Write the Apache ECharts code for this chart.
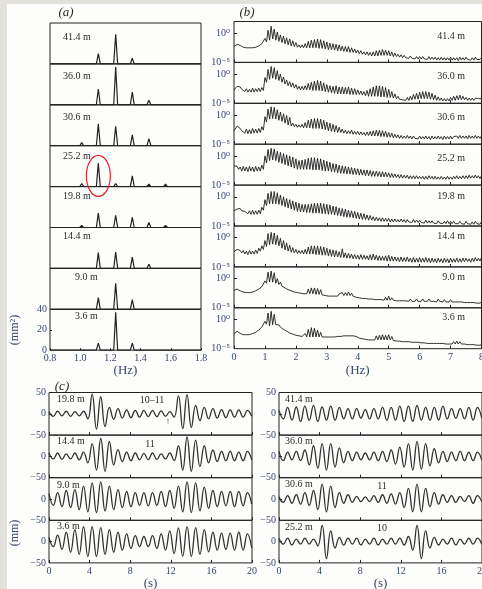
<!DOCTYPE html>
<html>
<head>
<meta charset="utf-8">
<script src="https://cdn.jsdelivr.net/npm/echarts@6/dist/echarts.min.js"></script>
<style>
  html, body { margin: 0; padding: 0; background: #e3e1dc; }
  #paper { position: absolute; left: 7px; top: 4px; width: 475px; height: 585px; background: #fdfdfb; }
  #chart { position: absolute; left: 0; top: 0; width: 482px; height: 589px; }
</style>
</head>
<body>
<div id="paper"></div>
<div id="chart"></div>
<script>
// gauge depths, top row first
const depths = ['41.4 m', '36.0 m', '30.6 m', '25.2 m', '19.8 m', '14.4 m', '9.0 m', '3.6 m'];

// (a) linear spectra: peak frequencies (Hz) and peak heights (mm^2) per depth
const aFreq = [1.01, 1.12, 1.235, 1.345, 1.455, 1.565, 1.68];
const aPeak414 = [0, 10, 29, 5.5, 0, 1, 0];
const aPeak360 = [1, 15.5, 37, 12.5, 4.5, 1, 0];
const aPeak306 = [3, 21.5, 19, 10.5, 7, 1.5, 0];
const aPeak252 = [3, 23, 3, 10.5, 2.5, 2.5, 1];
const aPeak198 = [2, 14, 12, 10, 5, 2, 1];
const aPeak144 = [0, 15.5, 16, 11, 4, 1, 0];
const aPeak90  = [0, 11.5, 25.5, 9.5, 1, 0, 0];
const aPeak36  = [0, 7, 37, 7, 0, 0, 0];
const aHalfWidth = 0.013;

// (b) log spectra, log10 values every 0.1 Hz from 0 to 8 Hz: comb tops (Hi) and troughs between (Lo)
const bStep = 0.1;
const b414Hi = [-2.3,-1.9,-2.1,-2.4,-2.5,-2.5,-2.5,-2.4,-2.2,-1.8, -0.9,0.5,1.2,0.7,0.2,-0.3,-0.5,-0.8,-1.0,-1.3, -1.6,-2.0,-2.0,-1.8,-1.4,-1.2,-1.1,-1.0,-1.1,-1.3, -1.5,-1.7,-1.8,-1.9,-2.0,-2.2,-2.3,-2.3,-2.5,-2.7, -2.9,-3.0,-3.2,-3.2,-3.3,-3.2,-3.0,-2.9,-2.8,-2.9, -3.0,-3.2,-3.4,-3.6,-3.7,-3.8,-3.9,-3.9,-4.0,-4.0, -4.0,-4.0,-4.1,-4.0,-4.1,-4.1,-4.2,-4.1,-4.2,-4.2, -4.1,-4.2,-4.2,-4.1,-4.2,-4.1,-4.2,-4.2,-4.1,-4.2, -4.2];
const b414Lo = [-2.5,-2.2,-2.4,-2.6,-2.7,-2.7,-2.6,-2.5,-2.4,-2.1, -1.5,-1.2,-1.0,-1.2,-1.4,-1.6,-1.8,-2.0,-2.2,-2.3, -2.4,-2.5,-2.5,-2.5,-2.5,-2.5,-2.5,-2.6,-2.6,-2.7, -2.8,-2.8,-2.9,-3.0,-3.0,-3.1,-3.2,-3.3,-3.3,-3.4, -3.5,-3.6,-3.7,-3.8,-3.9,-3.9,-3.9,-3.8,-3.8,-3.8, -3.9,-4.0,-4.0,-4.1,-4.2,-4.2,-4.3,-4.3,-4.4,-4.4, -4.4,-4.4,-4.5,-4.5,-4.5,-4.6,-4.6,-4.6,-4.6,-4.6, -4.6,-4.6,-4.7,-4.6,-4.6,-4.5,-4.6,-4.6,-4.5,-4.5, -4.5];
const b360Hi = [-2.7,-2.1,-2.2,-2.5,-2.5,-2.6,-2.4,-2.5,-2.4,-2.3, -0.6,0.8,1.3,1.1,0.6,0.0,-0.5,-1.0,-1.3,-1.5, -1.8,-2.1,-2.1,-2.0,-1.6,-1.4,-1.2,-1.1,-1.2,-1.5, -1.8,-2.0,-2.1,-2.0,-2.2,-2.2,-2.3,-2.2,-2.4,-2.5, -2.7,-2.9,-3.0,-2.8,-2.5,-2.2,-2.0,-2.0,-2.1,-2.3, -2.6,-3.0,-3.4,-3.8,-4.0,-4.1,-4.0,-3.8,-3.5,-3.3, -3.1,-3.0,-3.0,-3.1,-3.3,-3.6,-3.9,-4.1,-4.2,-4.2, -4.0,-3.8,-3.7,-3.6,-3.8,-4.0,-4.1,-4.1,-4.1,-4.2, -4.2];
const b360Lo = [-3.0,-2.4,-2.6,-3.0,-3.1,-3.1,-3.1,-3.0,-3.0,-2.8, -1.4,-0.9,-0.7,-0.9,-1.1,-1.4,-1.7,-2.0,-2.2,-2.4, -2.6,-2.7,-2.7,-2.7,-2.7,-2.8,-2.8,-2.8,-2.9,-3.0, -3.1,-3.2,-3.3,-3.4,-3.4,-3.4,-3.4,-3.5,-3.5,-3.5, -3.5,-3.6,-3.7,-3.8,-3.8,-3.8,-3.8,-3.9,-3.9,-4.0, -4.0,-4.1,-4.2,-4.3,-4.4,-4.5,-4.5,-4.4,-4.3,-4.3, -4.2,-4.2,-4.2,-4.3,-4.4,-4.5,-4.5,-4.6,-4.6,-4.6, -4.5,-4.5,-4.4,-4.4,-4.4,-4.5,-4.5,-4.5,-4.4,-4.5, -4.5];
const b306Hi = [-2.7,-1.9,-2.3,-2.5,-2.4,-2.5,-2.3,-2.4,-2.3,-2.0, -0.3,1.0,1.4,1.3,0.9,0.5,0.2,-0.1,-0.4,-1.4, -1.6,-1.7,-1.6,-1.3,-0.9,-0.7,-0.6,-0.6,-0.7,-0.9, -1.2,-1.4,-1.6,-1.8,-2.1,-2.4,-2.6,-2.7,-2.6,-2.8, -2.8,-2.9,-3.0,-2.9,-2.8,-2.7,-2.6,-2.6,-2.7,-2.8, -3.0,-3.1,-3.3,-3.4,-3.5,-3.6,-3.5,-3.6,-3.6,-3.7, -3.6,-3.7,-3.6,-3.7,-3.6,-3.7,-3.6,-3.7,-3.6,-3.7, -3.6,-3.7,-3.6,-3.5,-3.6,-3.6,-3.5,-3.6,-3.5,-3.6, -3.6];
const b306Lo = [-3.0,-2.2,-2.7,-3.1,-3.2,-3.2,-3.1,-3.1,-3.0,-2.6, -1.2,-0.7,-0.6,-0.7,-0.9,-1.1,-1.4,-1.7,-1.9,-2.0, -2.1,-2.1,-2.2,-2.2,-2.2,-2.3,-2.3,-2.3,-2.4,-2.5, -2.7,-2.8,-2.9,-3.0,-3.0,-3.1,-3.2,-3.2,-3.3,-3.3, -3.4,-3.4,-3.5,-3.5,-3.6,-3.6,-3.6,-3.7,-3.7,-3.8, -3.8,-3.9,-3.9,-4.0,-4.0,-4.0,-4.0,-4.1,-4.0,-4.1, -4.1,-4.1,-4.1,-4.2,-4.1,-4.1,-4.1,-4.2,-4.1,-4.1, -4.1,-4.0,-4.0,-4.0,-4.0,-4.1,-4.0,-4.0,-4.0,-4.0, -4.0];
const b252Hi = [-1.7,-1.8,-1.9,-1.8,-1.9,-1.8,-1.9,-1.8,-1.9,-1.6, 0.0,1.1,1.3,1.2,0.8,0.6,0.4,0.2,0.0,-0.2, -0.5,-0.8,-0.7,-0.6,-0.4,-0.3,-0.3,-0.4,-0.5,-0.7, -0.9,-1.1,-1.3,-1.4,-1.6,-1.7,-1.8,-1.9,-2.0,-2.1, -2.2,-2.3,-2.4,-2.4,-2.5,-2.6,-2.6,-2.7,-2.7,-2.8, -2.9,-3.0,-3.1,-3.2,-3.2,-3.3,-3.3,-3.4,-3.4,-3.4, -3.5,-3.5,-3.5,-3.4,-3.5,-3.5,-3.6,-3.5,-3.6,-3.5, -3.6,-3.5,-3.4,-3.5,-3.4,-3.4,-3.3,-3.4,-3.3,-3.4, -3.4];
const b252Lo = [-2.0,-2.3,-2.6,-2.6,-2.7,-2.6,-2.7,-2.6,-2.6,-2.3, -1.2,-0.8,-0.7,-0.8,-1.1,-1.3,-1.5,-1.7,-1.9,-2.1, -2.3,-2.3,-2.3,-2.3,-2.3,-2.4,-2.4,-2.4,-2.5,-2.6, -2.6,-2.7,-2.8,-2.9,-3.0,-3.0,-3.1,-3.1,-3.2,-3.2, -3.3,-3.3,-3.4,-3.4,-3.5,-3.5,-3.5,-3.6,-3.6,-3.6, -3.7,-3.7,-3.7,-3.8,-3.8,-3.8,-3.9,-3.9,-3.9,-3.9, -3.9,-4.0,-4.0,-3.9,-4.0,-4.0,-4.0,-4.0,-4.0,-4.0, -4.0,-3.9,-3.9,-3.9,-3.9,-3.9,-3.8,-3.8,-3.8,-3.9, -3.8];
const b198Hi = [-2.4,-2.1,-2.0,-2.2,-2.3,-2.4,-2.3,-2.4,-2.3,-1.8, -0.5,0.6,0.9,0.9,0.7,0.3,0.0,-0.3,-0.5,-0.7, -0.9,-1.1,-1.3,-1.3,-1.3,-1.2,-1.1,-1.1,-1.1,-1.2, -1.3,-1.4,-1.6,-1.7,-1.9,-2.0,-2.1,-2.3,-2.4,-2.5, -2.7,-2.8,-2.9,-3.1,-3.2,-3.4,-3.5,-3.6,-3.6,-3.7, -3.7,-3.8,-3.8,-3.9,-3.8,-3.9,-3.9,-4.0,-3.9,-4.0, -4.0,-4.1,-4.0,-4.1,-4.1,-4.2,-4.1,-4.2,-4.2,-4.1, -4.2,-4.2,-4.3,-4.2,-4.3,-4.2,-4.3,-4.3,-4.2,-4.3, -4.3];
const b198Lo = [-2.7,-2.4,-2.4,-2.5,-2.9,-3.0,-3.0,-3.0,-2.9,-2.3, -1.5,-1.2,-1.2,-1.2,-1.3,-1.5,-1.7,-1.9,-2.1,-2.3, -2.5,-2.6,-2.6,-2.7,-2.7,-2.8,-2.8,-2.8,-2.9,-2.9, -3.0,-3.0,-3.1,-3.2,-3.3,-3.4,-3.5,-3.5,-3.6,-3.7, -3.8,-3.9,-3.9,-4.0,-4.0,-4.1,-4.1,-4.2,-4.2,-4.2, -4.3,-4.3,-4.3,-4.3,-4.3,-4.4,-4.3,-4.4,-4.4,-4.4, -4.4,-4.5,-4.5,-4.5,-4.5,-4.6,-4.5,-4.6,-4.6,-4.6, -4.6,-4.6,-4.6,-4.6,-4.7,-4.6,-4.7,-4.7,-4.6,-4.7, -4.6];
const b144Hi = [-2.4,-2.0,-2.2,-2.2,-2.3,-2.2,-2.3,-2.1,-1.8,-1.4, -0.5,0.7,0.9,0.8,0.4,-0.1,-0.5,-0.9,-1.3,-1.7, -2.0,-2.2,-2.2,-2.0,-1.6,-1.4,-1.4,-1.4,-1.5,-1.6, -1.8,-2.0,-2.1,-2.2,-2.4,-1.9,-2.6,-2.7,-2.8,-2.9, -3.0,-2.9,-3.0,-3.1,-2.9,-2.8,-3.0,-3.1,-3.2,-3.1, -3.0,-3.2,-3.3,-3.4,-3.3,-3.4,-3.3,-3.5,-3.4,-3.5, -3.4,-3.5,-3.4,-3.5,-3.5,-3.6,-3.5,-3.6,-3.5,-3.6, -3.5,-3.6,-3.5,-3.6,-3.5,-3.5,-3.6,-3.5,-3.4,-3.5, -3.4];
const b144Lo = [-2.6,-2.3,-2.6,-2.8,-2.9,-2.8,-2.8,-2.7,-2.3,-2.0, -1.5,-1.2,-1.1,-1.2,-1.4,-1.8,-2.1,-2.3,-2.5,-2.6, -2.7,-2.7,-2.8,-2.8,-2.8,-2.8,-2.9,-2.9,-3.0,-3.0, -3.1,-3.2,-3.3,-3.3,-3.4,-3.4,-3.5,-3.5,-3.6,-3.6, -3.7,-3.7,-3.7,-3.8,-3.8,-3.8,-3.9,-3.9,-3.9,-4.0, -4.0,-4.0,-4.0,-4.1,-4.1,-4.1,-4.1,-4.2,-4.2,-4.2, -4.2,-4.2,-4.2,-4.3,-4.2,-4.3,-4.2,-4.3,-4.2,-4.3, -4.2,-4.2,-4.2,-4.2,-4.1,-4.1,-4.2,-4.1,-4.0,-4.0, -4.0];
const b90Hi = [-2.0,-1.8,-2.1,-2.3,-2.4,-2.4,-2.3,-2.1,-1.8,-1.4, -0.4,1.1,1.3,1.0,0.0,-0.6,-1.2,-1.7,-2.0,-2.2, -2.3,-2.4,-2.4,-2.3,-1.8,-1.6,-1.6,-1.7,-1.9,-2.5, -2.7,-2.8,-2.8,-2.7,-2.6,-2.4,-2.4,-2.3,-2.5,-2.9, -3.1,-3.2,-3.2,-3.3,-3.3,-3.3,-3.4,-3.4,-3.3,-3.2, -3.0,-3.3,-3.5,-3.5,-3.6,-3.5,-3.6,-3.5,-3.6,-3.5, -3.6,-3.5,-3.6,-3.5,-3.6,-3.6,-3.5,-3.6,-3.6,-3.7, -3.6,-3.7,-3.7,-3.8,-3.8,-3.8,-3.9,-3.9,-3.9,-4.0, -4.0];
const b90Lo = [-2.2,-2.0,-2.3,-2.4,-2.5,-2.5,-2.4,-2.2,-1.9,-1.6, -0.8,-0.6,-0.6,-0.8,-1.0,-1.3,-1.6,-1.9,-2.1,-2.3, -2.4,-2.5,-2.6,-2.6,-2.6,-2.6,-2.7,-2.7,-2.8,-2.9, -3.0,-3.0,-3.0,-3.0,-2.9,-2.9,-2.9,-2.9,-3.0,-3.2, -3.3,-3.4,-3.4,-3.5,-3.5,-3.6,-3.6,-3.6,-3.7,-3.7, -3.7,-3.7,-3.8,-3.8,-3.8,-3.8,-3.9,-3.9,-3.9,-3.9, -3.9,-3.9,-3.9,-3.9,-3.9,-4.0,-3.9,-4.0,-4.0,-4.0, -4.0,-4.0,-4.0,-4.0,-4.1,-4.1,-4.1,-4.1,-4.2,-4.2, -4.2];
const b36Hi = [-2.5,-2.0,-2.4,-2.6,-2.6,-2.6,-2.4,-2.2,-1.8,-1.3, -0.3,1.1,1.4,0.9,-0.6,-1.3,-1.7,-2.0,-2.3,-2.5, -2.7,-2.8,-2.9,-2.4,-1.7,-1.4,-1.5,-1.8,-2.2,-2.8, -2.8,-2.8,-2.8,-2.7,-2.7,-2.6,-2.6,-2.6,-2.6,-2.7, -3.0,-3.1,-3.2,-3.3,-3.3,-3.2,-2.8,-2.7,-2.6,-2.7, -2.6,-2.9,-3.4,-3.5,-3.6,-3.6,-3.7,-3.7,-3.7,-3.8, -3.8,-3.9,-3.9,-3.9,-4.0,-4.0,-4.0,-3.9,-4.0,-4.0, -3.9,-3.8,-3.7,-3.8,-4.0,-4.1,-4.1,-4.2,-4.2,-4.3, -4.3];
const b36Lo = [-2.7,-2.2,-2.5,-2.7,-2.7,-2.7,-2.5,-2.3,-1.9,-1.4, -0.8,-1.1,-0.9,-0.9,-0.9,-1.4,-1.8,-2.1,-2.4,-2.6, -2.8,-2.9,-3.0,-3.0,-3.0,-3.0,-3.0,-3.0,-3.0,-3.0, -3.0,-3.0,-3.0,-2.9,-2.9,-2.8,-2.8,-2.8,-2.8,-2.9, -3.2,-3.3,-3.4,-3.5,-3.5,-3.5,-3.5,-3.5,-3.5,-3.5, -3.5,-3.6,-3.7,-3.7,-3.8,-3.8,-3.8,-3.9,-3.9,-3.9, -4.0,-4.0,-4.1,-4.1,-4.1,-4.1,-4.1,-4.1,-4.2,-4.2, -4.2,-4.2,-4.2,-4.2,-4.2,-4.3,-4.3,-4.3,-4.4,-4.4, -4.5];

// (c) wave records (mm): successive crest/trough values, one every cDt seconds
const cDt = 0.425;
const c198 = [5,-6,6,-5,6,-6,5,-5, 6,-12,46,-36,40,-30,15,-13, 12,-10,9,-9,8,-8,8,-7, 8,-7,7,-6,5,-8,42,-35, 45,-32,20,-16,15,-12,12,-10, 10,-9,9,-8,9,-8,8,-6];
const c144 = [8,-6,8,-7,6,-6,8,-8, 10,-15,30,-32,42,-35,35,-20, 16,-12,10,-10,8,-8,7,-8, 8,-7,6,-6,8,-10,25,-32, 46,-35,38,-24,25,-15,15,-12, 12,-10,12,-10,10,-10,12,-8];
const c90  = [12,-15,15,-18,20,-20,22,-25, 30,-30,38,-32,40,-28,30,-25, 22,-20,18,-18,15,-15,15,-16, 15,-15,18,-18,20,-22,30,-30, 40,-32,38,-28,28,-22,20,-18, 18,-16,18,-18,18,-16,15,-12];
const c36  = [10,-12,15,-18,22,-25,28,-30, 35,-35,35,-35,33,-30,28,-25, 22,-20,18,-16,14,-12,12,-12, 14,-16,18,-20,25,-28,32,-34, 35,-35,33,-30,28,-24,22,-20, 20,-18,20,-20,22,-20,18,-15];
const c414 = [8,-12,15,-15,16,-18,18,-15, 20,-18,16,-15,18,-15,15,-12, 12,-12,12,-10,10,-12,12,-12, 15,-15,15,-15,18,-18,18,-18, 20,-15,15,-15,15,-15,18,-12, 12,-10,12,-12,15,-15,15,-10];
const c360 = [12,-10,10,-8,12,-10,15,-20, 25,-28,30,-32,30,-25,20,-15, 12,-10,10,-8,8,-8,10,-10, 12,-12,15,-18,22,-25,30,-32, 35,-30,30,-22,18,-15,12,-12, 10,-10,12,-10,10,-10,10,-8];
const c306 = [5,-8,8,-10,10,-12,15,-15, 20,-25,35,-30,30,-20,15,-10, 10,-8,6,-6,5,-6,8,-8, 10,-10,12,-12,15,-20,25,-30, 35,-30,25,-18,15,-12,10,-8, 8,-8,6,-6,8,-10,8,-6];
const c252 = [8,-6,8,-8,6,-6,8,-6, 6,-10,38,-40,25,-15,10,-8, 8,-6,8,-8,6,-6,8,-8, 6,-6,8,-6,8,-8,12,-20, 38,-40,25,-15,10,-8,6,-6, 8,-8,6,-6,8,-6,8,-6];

const aRows = [aPeak414, aPeak360, aPeak306, aPeak252, aPeak198, aPeak144, aPeak90, aPeak36];
const bRows = [[b414Hi, b414Lo], [b360Hi, b360Lo], [b306Hi, b306Lo], [b252Hi, b252Lo],
               [b198Hi, b198Lo], [b144Hi, b144Lo], [b90Hi, b90Lo], [b36Hi, b36Lo]];
const cLeft = [['19.8 m', c198], ['14.4 m', c144], ['9.0 m', c90], ['3.6 m', c36]];
const cRight = [['41.4 m', c414], ['36.0 m', c360], ['30.6 m', c306], ['25.2 m', c252]];

// ---- styling ----
const FONT = '"Liberation Serif", "DejaVu Serif", serif';
const INK = '#222';
const NUM = '#36466c';

const grids = [], xAxes = [], yAxes = [], series = [], graphics = [];

function addPanel(grid, xAxis, yAxis, s) {
  const i = grids.length;
  grids.push(Object.assign({ show: true, borderColor: INK, borderWidth: 1,
    backgroundColor: 'transparent', containLabel: false, outerBoundsMode: 'none' }, grid));
  xAxes.push(Object.assign({ gridIndex: i }, xAxis));
  yAxes.push(Object.assign({ gridIndex: i }, yAxis));
  series.push(Object.assign({ xAxisIndex: i, yAxisIndex: i, type: 'line', symbol: 'none',
    animation: false, silent: true }, s));
}

function label(show, extra) {
  return Object.assign({ show: show, fontFamily: FONT, fontSize: 10, color: NUM }, extra);
}
function tick(show, len) {
  return { show: show, inside: true, length: len || 3, lineStyle: { color: INK, width: 1 } };
}
const noLine = { show: false, onZero: false };
const nameStyle = { fontFamily: FONT, fontSize: 13, color: NUM };
const minus = v => (v < 0 ? '\u2212' + (-v) : String(v));

function text(x, y, str, opts) {
  graphics.push(Object.assign({ type: 'text', x: x, y: y, silent: true, z: 50,
    style: Object.assign({ text: str, fontFamily: FONT, fontSize: 10, fill: '#2a2a2a',
      align: 'left', verticalAlign: 'middle' }, opts && opts.style) }, opts && opts.el));
}

// ---- panel (a) ----
const aTop = 23, aH = 40.9;
const aLabelY = [37.7, 76.7, 117.3, 156.7, 196.7, 236.7, 277.3, 316.7];
aRows.forEach((peaks, r) => {
  const last = r === aRows.length - 1;
  const data = [[0.8, 0]];
  aFreq.forEach((f, k) => {
    if (peaks[k] > 0) data.push([f - aHalfWidth, 0], [f, peaks[k]], [f + aHalfWidth, 0]);
  });
  data.push([1.8, 0]);
  addPanel(
    { left: 50, top: aTop + r * aH, width: 151, height: aH },
    { type: 'value', min: 0.8, max: 1.8, interval: 0.2, splitLine: { show: false },
      axisLine: noLine, axisTick: tick(last, 2),
      axisLabel: label(last, { margin: 3, formatter: v => v.toFixed(1) }),
      name: last ? '(Hz)' : '', nameLocation: 'middle', nameGap: 13, nameTextStyle: nameStyle },
    { type: 'value', min: 0, max: 40, interval: 20, splitLine: { show: false },
      axisLine: noLine, axisTick: tick(last, 2),
      axisLabel: label(last, { margin: 3 }) },
    { data: data, lineStyle: { color: INK, width: 1.2 } }
  );
  const d = depths[r];
  text(d.length > 5 ? 63 : 75, aLabelY[r], d);
});

// ---- panel (b) ----
const bTop = 21.5, bH = 40.9;
const bLabelY = [36.7, 76, 117, 158, 196.7, 236.7, 277.7, 317];
bRows.forEach((pair, r) => {
  const last = r === bRows.length - 1;
  const hi = pair[0], lo = pair[1];
  const data = [];
  hi.forEach((v, i) => {
    data.push([i * bStep, v]);
    if (i < hi.length - 1) data.push([i * bStep + bStep / 2, lo[i]]);
  });
  addPanel(
    { left: 234, top: bTop + r * bH, width: 247.5, height: bH },
    { type: 'value', min: 0, max: 8, interval: 1, splitLine: { show: false },
      axisLine: noLine, axisTick: tick(true, 3),
      axisLabel: label(last, { margin: 4 }),
      name: last ? '(Hz)' : '', nameLocation: 'middle', nameGap: 15, nameTextStyle: nameStyle },
    { type: 'value', min: -5, max: 2, splitLine: { show: false },
      axisLine: noLine,
      axisTick: Object.assign(tick(true, 3), { customValues: [0] }),
      axisLabel: label(true, { margin: 4, customValues: [-5, 0],
        formatter: v => (v === 0 ? '10\u2070' : '10\u207B\u2075') }) },
    { data: data, lineStyle: { color: '#1c1c1c', width: 0.9 } }
  );
  text(465, bLabelY[r], depths[r], { style: { align: 'right' } });
});

// ---- panel (c) ----
const cTop = 392.5, cH = 42.6;
function addWaveColumn(rows, left, labelX, labelYs) {
  rows.forEach((row, r) => {
    const last = r === rows.length - 1;
    const yLabels = r === 0 ? [50, 0, -50] : [0, -50];
    addPanel(
      { left: left, top: cTop + r * cH, width: 203, height: cH },
      { type: 'value', min: 0, max: 20, interval: 4, splitLine: { show: false },
        axisLine: noLine, axisTick: tick(true, 3),
        axisLabel: label(last, { margin: 3 }),
        name: last ? '(s)' : '', nameLocation: 'middle', nameGap: 12, nameTextStyle: nameStyle },
      { type: 'value', min: -50, max: 50, interval: 50, splitLine: { show: false },
        axisLine: noLine,
        axisTick: Object.assign(tick(true, 3), { customValues: [0] }),
        axisLabel: label(true, { margin: 3, customValues: yLabels, formatter: minus }) },
      { data: row[1].map((v, i) => [i * cDt, v]), smooth: 0.45,
        lineStyle: { color: '#303030', width: 1.3 } }
    );
    text(labelX, labelYs[r], row[0]);
  });
}
addWaveColumn(cLeft, 49, 57, [399, 441.7, 485, 526]);
addWaveColumn(cRight, 279, 285, [399, 441, 484, 527]);

// ---- annotations ----
const tagStyle = { fontFamily: FONT, fontSize: 13, fontStyle: 'italic', fill: '#2a2a2a', align: 'center' };
text(66, 13, '(a)', { style: tagStyle });
text(247, 13, '(b)', { style: tagStyle });
text(62, 387, '(c)', { style: tagStyle });
text(152, 400, '10\u201311', { style: { align: 'center' } });
text(150, 444, '11', { style: { align: 'center' } });
text(168, 422, '\u2191', { style: { align: 'center', fontSize: 9, fill: '#555' } });
text(382, 486, '11', { style: { align: 'center' } });
text(382, 528, '10', { style: { align: 'center' } });
text(15, 330, '(mm\u00B2)', { style: { align: 'center', fontSize: 12, fill: NUM }, el: { rotation: Math.PI / 2 } });
text(15, 533, '(mm)', { style: { align: 'center', fontSize: 12, fill: NUM }, el: { rotation: Math.PI / 2 } });

const option = {
  animation: false,
  grid: grids,
  xAxis: xAxes,
  yAxis: yAxes,
  series: series,
  graphic: graphics
};

const chart = echarts.init(document.getElementById('chart'), null, { renderer: 'canvas' });
chart.setOption(option);

// red ring around the 1.1 Hz peak of the 25.2 m spectrum
const ring = chart.convertToPixel({ gridIndex: 3 }, [aFreq[1], 10.5]);
graphics.push({ type: 'ellipse', silent: true, z: 60,
  shape: { cx: ring[0], cy: ring[1], rx: 12, ry: 20.5 },
  style: { fill: 'none', stroke: '#e3262b', lineWidth: 1.2 } });
chart.setOption(option, true);
</script>
</body>
</html>
